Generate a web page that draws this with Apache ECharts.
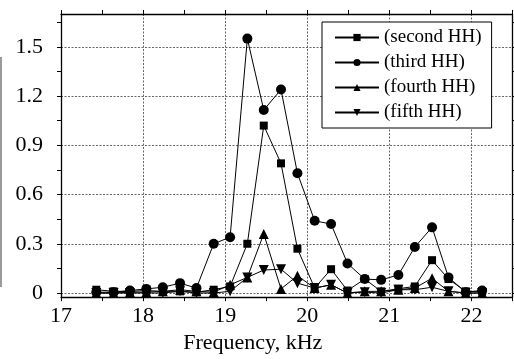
<!DOCTYPE html>
<html>
<head>
<meta charset="utf-8">
<script src="https://cdn.jsdelivr.net/npm/echarts@6/dist/echarts.min.js"></script>
<style>
  html, body { margin: 0; padding: 0; background: #fff; }
  #chart { width: 514px; height: 359px; }
</style>
</head>
<body>
<div id="chart"></div>
<script>
// frequency of each measured point, kHz
var freq = [17.43, 17.64, 17.84, 18.04, 18.24, 18.45, 18.65, 18.86, 19.06, 19.27, 19.47, 19.68,
            19.88, 20.09, 20.29, 20.49, 20.70, 20.90, 21.11, 21.31, 21.52, 21.72, 21.93, 22.13];

var secondHH = [0.02, 0.01, 0.01, 0.015, 0.01, 0.01, 0.005, 0.02, 0.04, 0.30, 1.02, 0.79,
                0.27, 0.03, 0.145, 0.015, 0.085, 0.01, 0.026, 0.04, 0.20, 0.085, 0.01, 0.01];
var thirdHH  = [0.005, 0.005, 0.015, 0.025, 0.035, 0.06, 0.03, 0.30, 0.34, 1.55, 1.115, 1.24,
                0.73, 0.44, 0.42, 0.18, 0.085, 0.08, 0.11, 0.28, 0.40, 0.095, 0.005, 0.015];
var fourthHH = [0.0, 0.0, 0.005, 0.005, 0.01, 0.02, 0.01, 0.005, 0.05, 0.095, 0.36, 0.025,
                0.105, 0.03, 0.05, 0.0, 0.01, 0.01, 0.02, 0.03, 0.09, 0.01, 0.0, 0.0];
var fifthHH  = [0.0, 0.0, 0.0, 0.0, 0.0, 0.01, 0.0, 0.0, 0.01, 0.095, 0.14, 0.145,
                0.06, 0.03, 0.05, 0.0, 0.005, 0.0, 0.02, 0.02, 0.035, 0.01, 0.0, 0.0];

var yMajor = [0, 0.3, 0.6, 0.9, 1.2, 1.5];
var yMinor = [0, 0.15, 0.3, 0.45, 0.6, 0.75, 0.9, 1.05, 1.2, 1.35, 1.5, 1.65];

function pairs(vals) {
  return freq.map(function (f, i) { return [f, vals[i]]; });
}

var font = 'Liberation Serif, Times New Roman, serif';
// fine dotted grid
var gridLine = { show: true, lineStyle: { color: '#666', width: 1, type: [2, 1.5] } };
var blackLine = { show: true, onZero: false, lineStyle: { color: '#000', width: 1.3 } };

var myChart = echarts.init(document.getElementById('chart'));

function line(name, vals, symbol, size, rotate) {
  return {
    name: name,
    type: 'line',
    data: pairs(vals),
    symbol: symbol,
    symbolSize: size,
    symbolRotate: rotate || 0,
    lineStyle: { color: '#000', width: 1 },
    itemStyle: { color: '#000' },
    xAxisIndex: 0,
    yAxisIndex: 0
  };
}

myChart.setOption({
  animation: false,
  textStyle: { fontFamily: font },
  grid: { left: 61, right: 1.5, top: 14, bottom: 55.5 },
  legend: {
    left: 322,
    top: 22,
    orient: 'vertical',
    backgroundColor: '#fff',
    borderColor: '#000',
    borderWidth: 1,
    padding: [6, 10, 6, 12],
    itemWidth: 44,
    itemHeight: 9,
    itemGap: 6,
    textStyle: { fontFamily: font, fontSize: 19, color: '#000', lineHeight: 19 },
    data: ['(second HH)', '(third HH)', '(fourth HH)', '(fifth HH)']
  },
  xAxis: [
    {
      type: 'value', position: 'bottom', min: 17, max: 22.5, interval: 1,
      name: 'Frequency, kHz', nameLocation: 'middle', nameGap: 30,
      nameTextStyle: { fontFamily: font, fontSize: 22, color: '#000', padding: [0, 68, 0, 0] },
      axisLine: blackLine,
      axisTick: { show: true, length: 4, lineStyle: { color: '#000' } },
      axisLabel: { fontFamily: font, fontSize: 22, color: '#000', margin: 8, showMaxLabel: false },
      splitLine: gridLine
    },
    {
      type: 'value', position: 'bottom', min: 17, max: 22.5, interval: 0.5,
      axisLine: { show: false, onZero: false },
      axisTick: { show: true, length: 4, lineStyle: { color: '#000' } },
      axisLabel: { show: false },
      splitLine: { show: false }
    },
    {
      type: 'value', position: 'top', min: 17, max: 22.5, interval: 0.5,
      axisLine: blackLine,
      axisTick: { show: true, length: 4, lineStyle: { color: '#000' } },
      axisLabel: { show: false },
      splitLine: { show: false }
    }
  ],
  yAxis: [
    {
      type: 'value', position: 'left', min: -0.025, max: 1.7,
      axisLine: blackLine,
      axisTick: { show: true, length: 4, customValues: yMajor, lineStyle: { color: '#000' } },
      axisLabel: { fontFamily: font, fontSize: 22, color: '#000', margin: 18, customValues: yMajor,
                   formatter: function (v) { return String(+v.toFixed(2)); } },
      splitLine: gridLine
    },
    {
      type: 'value', position: 'left', min: -0.025, max: 1.7,
      axisLine: { show: false, onZero: false },
      axisTick: { show: true, length: 4, customValues: yMinor, lineStyle: { color: '#000' } },
      axisLabel: { show: false },
      splitLine: { show: false }
    },
    {
      type: 'value', position: 'right', min: -0.025, max: 1.7,
      axisLine: blackLine,
      axisTick: { show: true, length: 4, customValues: yMinor, lineStyle: { color: '#000' } },
      axisLabel: { show: false },
      splitLine: { show: false }
    }
  ],
  graphic: [
    { type: 'rect', left: 0, top: 57, shape: { width: 2, height: 230 }, style: { fill: '#9a9a9a' } }
  ],
  series: [
    line('(second HH)', secondHH, 'rect', 8),
    line('(third HH)', thirdHH, 'circle', 10),
    line('(fourth HH)', fourthHH, 'triangle', 10),
    line('(fifth HH)', fifthHH, 'triangle', 10, 180)
  ]
});

window.onresize = function () {
  myChart.resize();
};
</script>
</body>
</html>
